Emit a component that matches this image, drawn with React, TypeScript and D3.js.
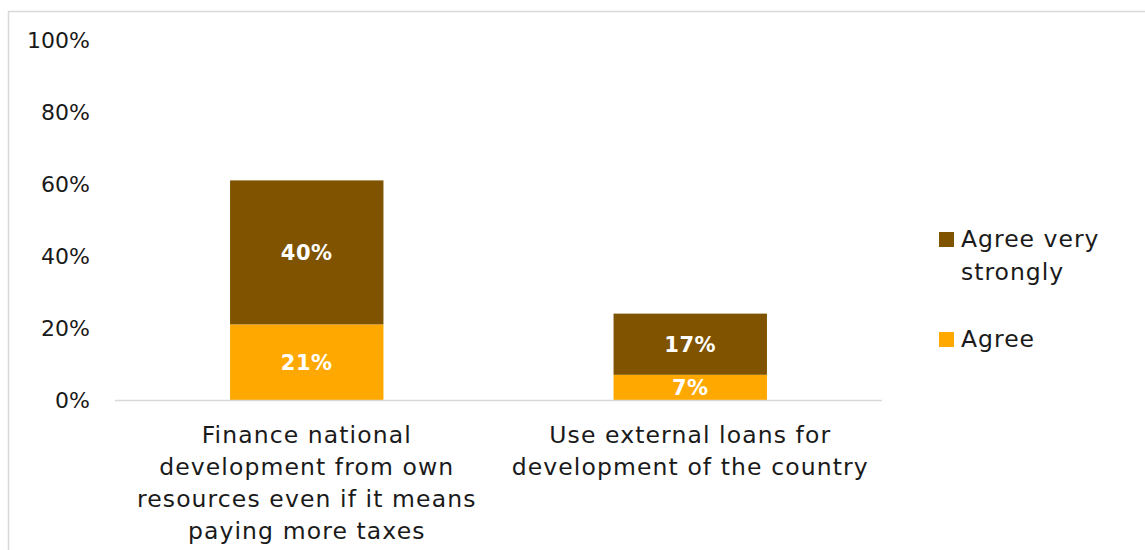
import React from "react";
import * as d3 from "d3";

const categoryLines: string[][] = [
  ["Finance national", "development from own", "resources even if it means", "paying more taxes"],
  ["Use external loans for", "development of the country"],
];
const categories = ["cat1", "cat2"];
const agree = [21, 7];
const agreeVeryStrongly = [40, 17];
const seriesNames = ["Agree very strongly", "Agree"];
const yTicks = [0, 20, 40, 60, 80, 100];

const COLORS = { agree: "#FFA900", strong: "#7F5300" };
const FONT = "'DejaVu Sans', sans-serif";

export default function App() {
  const W = 1145, H = 550;
  const x = d3.scaleBand().domain(categories).range([115, 882]).paddingInner(0.6).paddingOuter(0.3);
  const y = d3.scaleLinear().domain([0, 100]).range([400, 40]);
  const bw = x.bandwidth();

  return (
    <svg width={W} height={H} style={{ position: "absolute", left: 0, top: 0, fontFamily: FONT }}>
      <rect x={0} y={0} width={W} height={H} fill="#fff" />
      <line x1={8.5} x2={8.5} y1={11} y2={H} stroke="#d9d9d9" strokeWidth={1.5} />
      <line x1={8} x2={W} y1={11.5} y2={11.5} stroke="#d9d9d9" strokeWidth={1.5} />
      {yTicks.map((t) => (
        <text key={t} x={90} y={y(t) + 8} textAnchor="end" fontSize={22} fill="#1a1a1a">
          {t}%
        </text>
      ))}
      {categories.map((c, i) => {
        const x0 = x(c)!;
        const a = agree[i], s = agreeVeryStrongly[i];
        return (
          <g key={c}>
            <rect x={x0} y={y(a)} width={bw} height={y(0) - y(a)} fill={COLORS.agree} />
            <rect x={x0} y={y(a + s)} width={bw} height={y(a) - y(a + s)} fill={COLORS.strong} />
            <text x={x0 + bw / 2} y={(y(0) + y(a)) / 2 + 8} textAnchor="middle" fontSize={21} fontWeight="bold" fill="#fff" letterSpacing={0.5}>
              {a}%
            </text>
            <text x={x0 + bw / 2} y={(y(a) + y(a + s)) / 2 + 8} textAnchor="middle" fontSize={21} fontWeight="bold" fill="#fff" letterSpacing={0.5}>
              {s}%
            </text>
            {categoryLines[i].map((ln, j) => (
              <text key={j} x={x0 + bw / 2} y={443 + j * 32} textAnchor="middle" fontSize={23.5} letterSpacing={1.1} fill="#1a1a1a">
                {ln}
              </text>
            ))}
          </g>
        );
      })}
      <line x1={115} x2={882} y1={400.5} y2={400.5} stroke="#d9d9d9" strokeWidth={1.5} />
      <g fontSize={23.5} letterSpacing={1} fill="#1a1a1a">
        <rect x={939} y={232} width={15} height={15} fill={COLORS.strong} />
        <text x={961} y={247}>Agree very</text>
        <text x={961} y={280}>strongly</text>
        <rect x={939} y={332} width={15} height={15} fill={COLORS.agree} />
        <text x={961} y={347}>{seriesNames[1]}</text>
      </g>
    </svg>
  );
}
